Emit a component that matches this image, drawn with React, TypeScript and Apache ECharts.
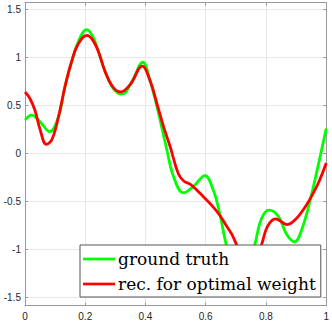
import React, { useEffect, useRef } from "react";
import * as echarts from "echarts";

const groundTruthX = [0, 0.022, 0.05, 0.082, 0.111, 0.133, 0.154, 0.175, 0.205, 0.225, 0.242, 0.264, 0.29, 0.308, 0.323, 0.355, 0.391, 0.415, 0.438, 0.471, 0.493, 0.526, 0.56, 0.597, 0.625, 0.646, 0.668, 0.69, 0.715, 0.74, 0.763, 0.785, 0.81, 0.84, 0.87, 0.895, 0.92, 0.947, 0.975, 1.0];
const groundTruthY = [0.35, 0.4, 0.33, 0.227, 0.38, 0.7, 0.94, 1.15, 1.29, 1.22, 1.08, 0.87, 0.69, 0.63, 0.62, 0.75, 0.95, 0.76, 0.49, 0.036, -0.24, -0.41, -0.34, -0.23, -0.38, -0.62, -0.95, -1.2, -1.32, -1.2, -0.95, -0.68, -0.59, -0.65, -0.85, -0.92, -0.78, -0.48, -0.1, 0.26];

const reconX = [0, 0.015, 0.033, 0.05, 0.071, 0.09, 0.111, 0.133, 0.154, 0.175, 0.205, 0.225, 0.245, 0.264, 0.29, 0.318, 0.35, 0.389, 0.415, 0.438, 0.46, 0.482, 0.509, 0.528, 0.548, 0.57, 0.592, 0.62, 0.646, 0.668, 0.688, 0.71, 0.735, 0.76, 0.783, 0.805, 0.832, 0.871, 0.9, 0.925, 0.947, 0.975, 1.0];
const reconY = [0.64, 0.58, 0.45, 0.25, 0.096, 0.15, 0.38, 0.7, 0.95, 1.13, 1.23, 1.18, 1.05, 0.87, 0.7, 0.64, 0.72, 0.91, 0.76, 0.52, 0.28, 0.07, -0.21, -0.29, -0.32, -0.38, -0.45, -0.54, -0.64, -0.75, -0.85, -1.0, -1.12, -1.1, -0.97, -0.76, -0.68, -0.74, -0.68, -0.58, -0.47, -0.3, -0.1];

const seriesNames = ["ground truth", "rec. for optimal weight"];
const xTicks = { min: 0, max: 1, interval: 0.2 };
const yRange = { min: -1.585, max: 1.57 };

export default function App() {
  const ref = useRef<HTMLDivElement>(null);
  useEffect(() => {
    if (!ref.current) return;
    const chart = echarts.init(ref.current, null, { renderer: "svg" });
    const axisColor = "#999999";
    const labelColor = "#262626";
    const labelFont = { color: labelColor, fontSize: 10, fontFamily: "Liberation Sans, Arial, sans-serif" };
    const fmt = (v: number) => {
      const r = Math.round(v * 10) / 10;
      return String(r);
    };
    chart.setOption({
      animation: false,
      backgroundColor: "#ffffff",
      grid: { left: 25, right: 2.5, top: 2.7, bottom: 16.3, show: false },
      xAxis: [
        {
          type: "value",
          min: xTicks.min,
          max: xTicks.max,
          interval: xTicks.interval,
          position: "bottom",
          axisLine: { show: true, onZero: false, lineStyle: { color: axisColor, width: 1 } },
          axisTick: { show: true, inside: true, length: 3, lineStyle: { color: axisColor } },
          axisLabel: { ...labelFont, margin: 6, formatter: fmt },
          splitLine: { show: true, lineStyle: { color: "#e8e8e8", width: 1 } },
        },
        {
          type: "value",
          min: xTicks.min,
          max: xTicks.max,
          interval: xTicks.interval,
          position: "top",
          axisLine: { show: true, onZero: false, lineStyle: { color: axisColor, width: 1 } },
          axisTick: { show: true, inside: true, length: 3, lineStyle: { color: axisColor } },
          axisLabel: { show: false },
          splitLine: { show: false },
        },
      ],
      yAxis: [
        {
          type: "value",
          min: yRange.min,
          max: yRange.max,
          splitNumber: 6,
          position: "left",
          axisLine: { show: true, onZero: false, lineStyle: { color: axisColor, width: 1 } },
          axisTick: { show: true, inside: true, length: 3, lineStyle: { color: axisColor } },
          axisLabel: { ...labelFont, margin: 4, showMinLabel: false, showMaxLabel: false, formatter: fmt },
          splitLine: { show: true, lineStyle: { color: "#e8e8e8", width: 1 } },
        },
        {
          type: "value",
          min: yRange.min,
          max: yRange.max,
          splitNumber: 6,
          position: "right",
          axisLine: { show: true, onZero: false, lineStyle: { color: axisColor, width: 1 } },
          axisTick: { show: true, inside: true, length: 3, lineStyle: { color: axisColor } },
          axisLabel: { show: false },
          splitLine: { show: false },
        },
      ],
      legend: {
        orient: "vertical",
        left: 80,
        top: 245,
        padding: [4, 5, 3, 3],
        itemGap: 5,
        itemWidth: 32,
        itemHeight: 2.7,
        icon: "rect",
        backgroundColor: "#ffffff",
        borderColor: "#555555",
        borderWidth: 1,
        z: 10,
        textStyle: { fontFamily: "DejaVu Serif, serif", fontSize: 17, color: "#000000", lineHeight: 20, padding: [0, 0, 0, -2] },
        data: seriesNames,
      },
      series: [
        {
          name: seriesNames[0],
          type: "line",
          xAxisIndex: 0,
          yAxisIndex: 0,
          data: groundTruthX.map((x, i) => [x, groundTruthY[i]]),
          symbol: "none",
          smooth: 0.4,
          lineStyle: { color: "#00ff00", width: 2.8 },
          itemStyle: { color: "#00ff00" },
          z: 2,
        },
        {
          name: seriesNames[1],
          type: "line",
          xAxisIndex: 0,
          yAxisIndex: 0,
          data: reconX.map((x, i) => [x, reconY[i]]),
          symbol: "none",
          smooth: 0.4,
          lineStyle: { color: "#ff0000", width: 2.8 },
          itemStyle: { color: "#ff0000" },
          z: 3,
        },
      ],
    });
    return () => chart.dispose();
  }, []);
  return (
    <div
      ref={ref}
      style={{ position: "fixed", left: 0, top: 0, width: 332, height: 322, background: "#fff" }}
    />
  );
}
